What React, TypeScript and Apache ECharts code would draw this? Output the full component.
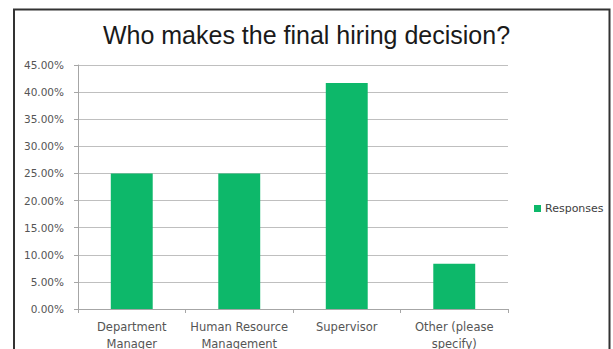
import React, { useEffect, useRef } from "react";
import * as echarts from "echarts";

const categories = [
  "Department\nManager",
  "Human Resource\nManagement",
  "Supervisor",
  "Other (please\nspecify)",
];
const responses = [25, 25, 41.67, 8.33];
const seriesName = "Responses";
const titleText = "Who makes the final hiring decision?";

const labelFont = "DejaVu Sans, sans-serif";

export default function App() {
  const ref = useRef<HTMLDivElement>(null);

  useEffect(() => {
    if (!ref.current) return;
    const chart = echarts.init(ref.current, null, { renderer: "svg" });
    chart.setOption({
      animation: false,
      backgroundColor: "#ffffff",
      textStyle: { fontFamily: "Liberation Sans, Arial, sans-serif" },
      title: {
        text: titleText,
        left: "center",
        top: 17,
        textStyle: {
          fontSize: 25,
          fontWeight: "normal",
          color: "#1a1a1a",
          fontFamily: "Liberation Sans, Arial, sans-serif",
        },
      },
      legend: {
        data: [seriesName],
        orient: "vertical",
        left: 529,
        top: 198,
        icon: "rect",
        itemWidth: 7,
        itemHeight: 7,
        itemGap: 4,
        textStyle: { fontSize: 11, color: "#404040", fontFamily: labelFont, padding: [0, 0, 0, -1] },
      },
      graphic: [
        {
          type: "rect",
          shape: { x: 14, y: 9.5, width: 595.5, height: 400 },
          style: { fill: "none", stroke: "#333333", lineWidth: 2 },
          silent: true,
        },
      ],
      grid: {
        left: 78,
        right: 105,
        top: 65,
        bottom: 40,
        containLabel: false,
        outerBoundsMode: "none",
      },
      xAxis: {
        type: "category",
        data: categories,
        axisLine: { lineStyle: { color: "#a6a6a6" } },
        axisTick: { show: true, alignWithLabel: false, length: 4, lineStyle: { color: "#a6a6a6" } },
        axisLabel: {
          fontSize: 11.5,
          color: "#555555",
          lineHeight: 16.6,
          margin: 10,
          interval: 0,
          fontFamily: labelFont,
        },
      },
      yAxis: {
        type: "value",
        min: 0,
        max: 45,
        interval: 5,
        axisLine: { show: true, lineStyle: { color: "#a6a6a6" } },
        axisTick: { show: true, length: 4, lineStyle: { color: "#a6a6a6" } },
        splitLine: { lineStyle: { color: "#bfbfbf" } },
        axisLabel: {
          fontSize: 10.5,
          color: "#555555",
          margin: 14,
          fontFamily: labelFont,
          formatter: (v: number) => v.toFixed(2) + "%",
        },
      },
      series: [
        {
          name: seriesName,
          type: "bar",
          data: responses,
          barWidth: "39%",
          itemStyle: { color: "#0DB86A" },
        },
      ],
    });
    return () => chart.dispose();
  }, []);

  return (
    <div
      ref={ref}
      style={{ position: "fixed", left: 0, top: 0, width: 613, height: 349 }}
    />
  );
}
